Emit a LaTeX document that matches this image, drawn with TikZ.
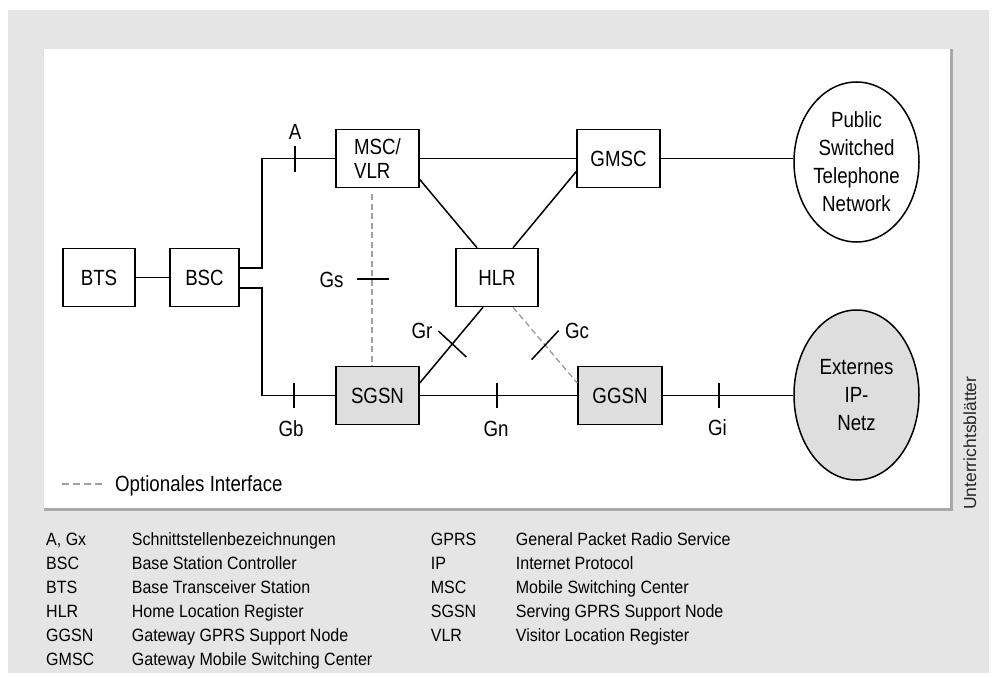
\documentclass[tikz,border=0pt]{standalone}
\usepackage{fontspec}
\setmainfont[FakeStretch=0.85]{Liberation Sans}
\newfontfamily\legfont[FakeStretch=0.9]{Liberation Sans}
\newfontfamily\sidefont{Liberation Sans}
\usetikzlibrary{shapes.geometric,calc}
\definecolor{bggray}{HTML}{E5E5E5}
\definecolor{framegray}{HTML}{A8A8A8}
\definecolor{boxfill}{HTML}{DEDEDE}
\definecolor{dashgray}{HTML}{A0A0A0}
\begin{document}
\begin{tikzpicture}[x=1pt,y=-1pt,
  box/.style={draw=black,line width=1.5pt,minimum width=83pt,minimum height=58pt,inner sep=0pt,font=\fontsize{22}{24}\selectfont,align=center},
  netz/.style={ellipse,draw=black,line width=1.5pt,minimum width=125pt,inner sep=0pt,font=\fontsize{22}{28}\selectfont,align=center},
  conn/.style={draw=black,line width=1.5pt},
  opt/.style={draw=dashgray,line width=1.4pt,dash pattern=on 6pt off 3.5pt},
  lbl/.style={inner sep=0pt,font=\fontsize{22}{24}\selectfont},
  leg/.style={anchor=base west,inner sep=0pt,font=\legfont\fontsize{17.8}{20}\selectfont}]
\fill[white] (0,0) rectangle (994,677);
\useasboundingbox (0,0) rectangle (994,677);
\fill[bggray] (8,10) rectangle (989,673);
\fill[white] (44,49) rectangle (950,508);
\draw[framegray,line width=3pt] (951.5,49) -- (951.5,509.5) -- (44,509.5);

% nodes
\node[box,minimum width=72pt] (bts) at (99,277.5) {BTS};
\node[box,minimum width=69pt] (bsc) at (204.5,277.5) {BSC};
\node[box,align=left] (msc) at (377.5,158.5) {MSC/\\VLR};
\node[box] (gmsc) at (618.5,158.5) {GMSC};
\node[box,minimum width=82pt] (hlr) at (497,277.5) {HLR};
\node[box,fill=boxfill] (sgsn) at (377.5,395.5) {SGSN};
\node[box,fill=boxfill,minimum width=84pt] (ggsn) at (620,395.5) {GGSN};
\node[netz,minimum height=160pt] (pstn) at (856.5,162) {Public\\Switched\\Telephone\\Network};
\node[netz,minimum height=170pt,fill=boxfill] (ext) at (856.5,395) {Externes\\IP-\\Netz};

% connectors
\draw[conn] (bts) -- (bsc);
\draw[conn] ([yshift=9.5pt]bsc.east) -- ++(22,0) |- (msc.west);
\draw[conn] ([yshift=-10.5pt]bsc.east) -- ++(22,0) |- (sgsn.west);
\draw[conn] (msc) -- (gmsc);
\draw[conn] (gmsc.east) -- (gmsc.east -| pstn.west);
\draw[conn] ([yshift=-21pt]msc.east) -- ([xshift=-20pt]hlr.north);
\draw[conn] ([yshift=-13pt]gmsc.west) -- ([xshift=16pt]hlr.north);
\draw[conn] (sgsn) -- (ggsn);
\draw[conn] (ggsn.east) -- (ggsn.east -| ext.west);
\draw[conn] ([yshift=12.5pt]sgsn.east) -- ([xshift=-14pt]hlr.south);
\draw[opt] ([xshift=16pt]hlr.south) -- ([yshift=12.5pt]ggsn.west);
\draw[opt,shorten <=6pt] ([xshift=-5.5pt]msc.south) -- ([xshift=-5.5pt]sgsn.north);

% interface ticks
\coordinate (tA) at (295,158.5);
\coordinate (tGs) at (372,279);
\coordinate (tGb) at (294,395.5);
\coordinate (tGn) at (497,395.5);
\coordinate (tGi) at (719,395.5);
\coordinate (tGr) at ($([yshift=12.5pt]sgsn.east)!0.515!([xshift=-14pt]hlr.south)$);
\coordinate (tGc) at ($([xshift=16pt]hlr.south)!0.5!([yshift=12.5pt]ggsn.west)$);
\draw[conn] ([yshift=13pt]tA) -- ([yshift=-13pt]tA);
\draw[conn] ([xshift=-15.5pt]tGs) -- ([xshift=16.5pt]tGs);
\draw[conn] ([yshift=13pt]tGb) -- ([yshift=-12.5pt]tGb);
\draw[conn] ([yshift=13pt]tGn) -- ([yshift=-12.5pt]tGn);
\draw[conn] ([yshift=13pt]tGi) -- ([yshift=-12.5pt]tGi);
\draw[conn] ($(tGr)+(-14,-13)$) -- ($(tGr)+(14,13)$);
\draw[conn] ($(tGc)+(-13.5,14.5)$) -- ($(tGc)+(13.5,-14.5)$);

% interface labels
\node[lbl] (lA) at (295,132) {A};
\node[lbl] (lGs) at (331.5,280) {Gs};
\node[lbl] (lGb) at (291,429) {Gb};
\node[lbl] (lGn) at (496,429) {Gn};
\node[lbl] (lGi) at (717.5,428) {Gi};
\node[lbl] (lGr) at (422,331) {Gr};
\node[lbl] (lGc) at (577,331) {Gc};

% legend of line style
\coordinate (d1) at (62,484);
\coordinate (d2) at (102,484);
\draw[draw=dashgray,line width=1.4pt,dash pattern=on 7pt off 4pt] (d1) -- (d2);
\node[anchor=base west,inner sep=0pt,font=\fontsize{22}{24}\selectfont] (optl) at (115,491) {Optionales Interface};

% abbreviations
\foreach \i/\a/\d in {0/{A, Gx}/Schnittstellenbezeichnungen,1/BSC/Base Station Controller,2/BTS/Base Transceiver Station,3/HLR/Home Location Register,4/GGSN/Gateway GPRS Support Node,5/GMSC/Gateway Mobile Switching Center}{
  \node[leg] (la\i) at (46,545.3+24*\i) {\a};
  \node[leg] (ld\i) at (131.7,545.3+24*\i) {\d};
}
\foreach \i/\a/\d in {0/GPRS/General Packet Radio Service,1/IP/Internet Protocol,2/MSC/Mobile Switching Center,3/SGSN/Serving GPRS Support Node,4/VLR/Visitor Location Register}{
  \node[leg] (ra\i) at (430.7,545.3+24*\i) {\a};
  \node[leg] (rd\i) at (515.7,545.3+24*\i) {\d};
}

\node[rotate=90,anchor=base west,inner sep=0pt,text=black!85,font=\sidefont\fontsize{17.5}{17.5}\selectfont] (side) at (976,510) {Unterrichtsblätter};
\end{tikzpicture}
\end{document}
